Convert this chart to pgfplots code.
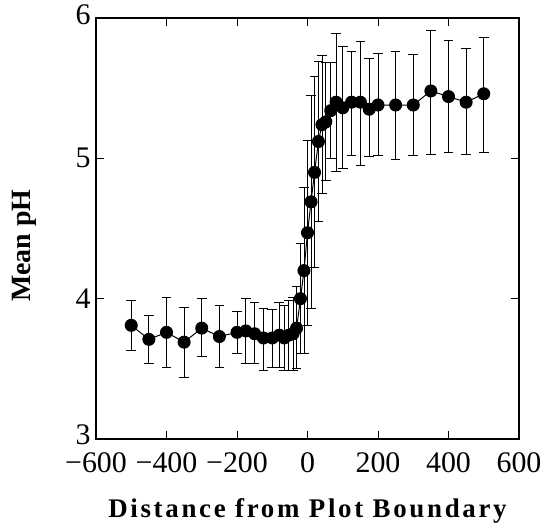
\documentclass[border=0pt]{standalone}
\usepackage{fontspec}
\setmainfont{Liberation Serif}
\newfontfamily\spacedfont[LetterSpace=10]{Liberation Serif}
\usepackage{pgfplots}
\pgfplotsset{compat=1.18}
\usepackage{pgfplotstable}

\pgfplotstableread{
x y lo hi
-500 3.81 3.63 3.99
-450 3.71 3.54 3.88
-400 3.76 3.51 4.01
-350 3.69 3.44 3.94
-300 3.79 3.59 4.00
-250 3.73 3.51 3.95
-200 3.76 3.61 3.91
-175 3.77 3.54 4.00
-150 3.75 3.54 3.97
-125 3.72 3.49 3.93
-100 3.72 3.51 3.92
-80 3.74 3.51 3.97
-66 3.72 3.49 3.95
-53 3.74 3.49 3.99
-41 3.75 3.49 4.01
-31 3.79 3.50 4.09
-20 4.00 3.61 4.39
-10 4.20 3.61 4.79
0 4.47 3.81 5.13
10 4.69 3.93 5.45
20 4.90 4.22 5.58
31 5.12 4.55 5.69
41 5.24 4.75 5.73
52 5.26 4.84 5.68
66 5.34 5.00 5.68
81 5.40 4.91 5.89
100 5.36 4.93 5.80
125 5.40 5.02 5.76
150 5.40 4.95 5.83
175 5.35 5.01 5.71
200 5.38 5.02 5.75
250 5.38 4.99 5.76
300 5.38 5.02 5.74
350 5.48 5.03 5.91
400 5.44 5.04 5.84
450 5.40 5.03 5.78
500 5.46 5.04 5.86
}\phdata

\begin{document}
\begin{tikzpicture}
\path (-96bp,-92bp) rectangle (449bp,439bp);
\begin{axis}[
  scale only axis,
  width=423bp, height=421bp,
  xmin=-600, xmax=600, ymin=3, ymax=6,
  xtick={-600,-400,-200,0,200,400,600},
  xticklabels={−600,−400,−200,0,200,400,600},
  ytick={3,4,5,6},
  yticklabels={\raisebox{-5bp}[0pt][0pt]{3},4,5,\raisebox{-7bp}[0pt][0pt]{6}},
  tick align=inside,
  major tick length=8bp,
  axis line style={line width=1.1bp, black},
  tick style={line width=1bp, black},
  ticklabel style={font=\fontsize{30}{36}\selectfont},
  xticklabel style={yshift=-10bp},
  yticklabel style={xshift=-2bp},
  xlabel={\fontsize{27}{32}\selectfont\bfseries\spacedfont Distance from Plot Boundary},
  ylabel={\fontsize{28}{34}\selectfont\bfseries Mean pH},
  xlabel style={at={(axis description cs:0.5,-0.187)}, anchor=base},
  ylabel style={at={(axis description cs:-0.154,0.459)}, anchor=base},
  clip=false,
]
\addplot[black, line width=1bp, mark=*, mark size=6bp,
  mark options={fill=black, draw=black},
  error bars/.cd, y dir=both, y explicit,
  error bar style={line width=0.9bp, black},
  error mark options={rotate=90, mark size=4.8bp, line width=0.9bp, black}]
  table[x=x, y=y,
    y error plus expr=\thisrow{hi}-\thisrow{y},
    y error minus expr=\thisrow{y}-\thisrow{lo}] {\phdata};
\end{axis}
\end{tikzpicture}
\end{document}
